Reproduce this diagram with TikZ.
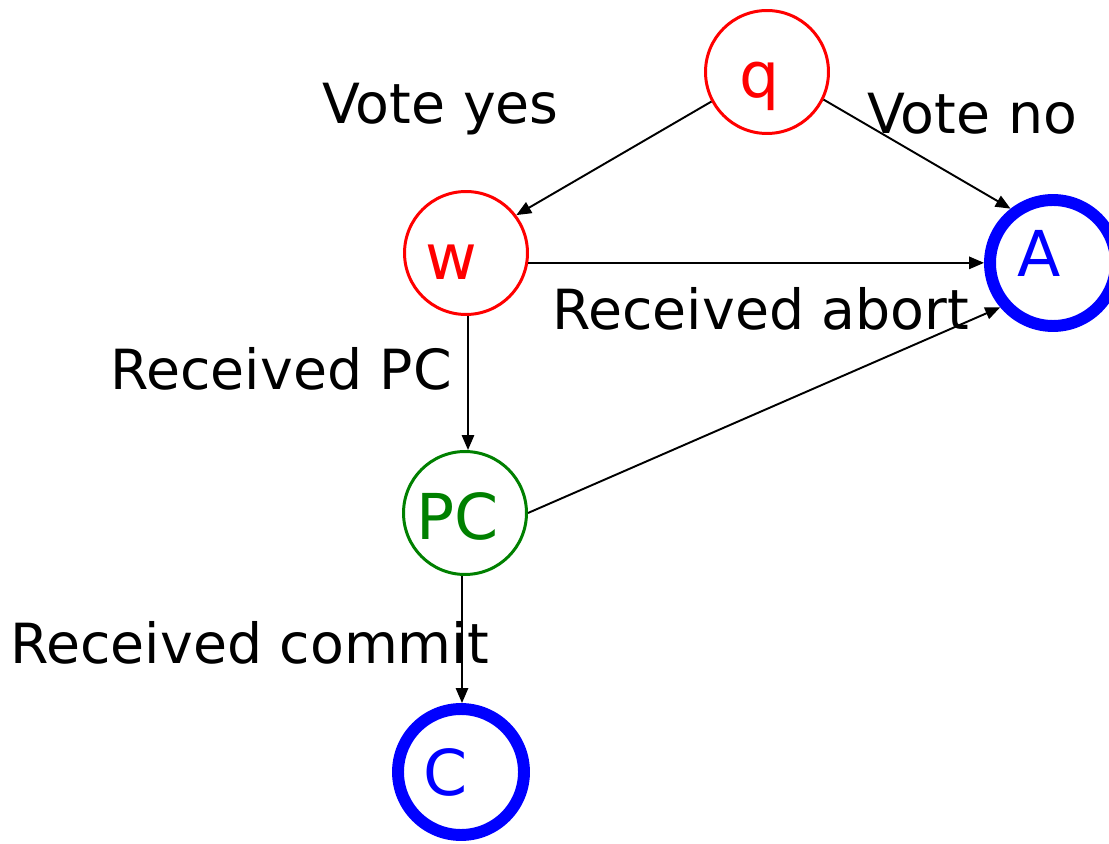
\documentclass[tikz,border=0pt]{standalone}
\usepackage{fontspec}
\setmainfont{DejaVu Sans}
\usetikzlibrary{arrows.meta}
% place a state letter off-centre inside its circle, keeping its box size
\newcommand\mvtext[3]{\raisebox{#2}[\height][\depth]{\kern#1\relax #3\kern-#1\relax}}
\begin{document}
\begin{tikzpicture}[x=0.02cm,y=-0.02cm,
  state/.style={circle,draw,line width=1.7pt,minimum size=2.46cm,inner sep=0pt,
    font=\fontsize{36}{40}\selectfont},
  final/.style={circle,draw=blue,text=blue,line width=6.8pt,minimum size=2.52cm,inner sep=0pt,
    font=\fontsize{36}{40}\selectfont},
  edge/.style={line width=1.1pt,-{Triangle[length=8.5pt,width=7pt]}},
  lbl/.style={anchor=base west,inner sep=0pt,font=\fontsize{31.5}{37}\selectfont}]
\useasboundingbox (0,0) rectangle (1109,844);
\clip (0,0) rectangle (1109,844);

% states
\node[state,draw=red,text=red] (q) at (767,72) {\mvtext{-4pt}{-7.9pt}{q}};
\node[state,draw=red,text=red] (w) at (466,253) {\mvtext{-8.5pt}{-5.1pt}{w}};
\node[state,draw={rgb,255:red,0;green,128;blue,0},text={rgb,255:red,0;green,128;blue,0}] (pc) at (465,513) {\mvtext{-4pt}{-1.7pt}{PC}};
\node[final] (A) at (1053,263) {\mvtext{-8pt}{5.7pt}{A}};
\node[final] (C) at (461,772) {\mvtext{-8.5pt}{0pt}{C}};

% transitions
\draw[edge] (q.208) -- (w.37);
\draw[edge] (q.-26) -- (A.128);
\draw[edge] (w.-9) -- (w.-9 -| A.west);
\draw[edge] (w.south -| 468,0) -- (pc.north -| 468,0);
\draw[edge] (pc.east) -- (A.220);
\draw[edge] (pc.south -| 462,0) -- (C.north -| 462,0);

% labels
\node[lbl] (l1) at (322,124) {Vote yes};
\node[lbl] (l2) at (867,134) {Vote no};
\node[lbl] (l3) at (552,330) {Received abort};
\node[lbl] (l4) at (110,390) {Received PC};
\node[lbl] (l5) at (10,663) {Received commit};
\end{tikzpicture}
\end{document}
